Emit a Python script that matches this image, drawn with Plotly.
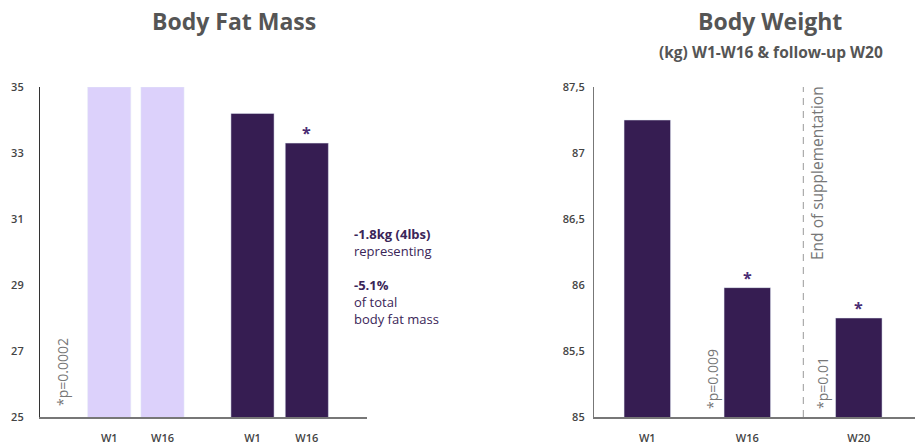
import plotly.graph_objects as go

# ---- data ----
fat_labels = ["W1", "W16", "W1", "W16"]
fat_placebo = [35, 35]          # clipped at the top of the axis
fat_supplement = [34.2, 33.3]
fat_star = [False, True]

weight_labels = ["W1", "W16", "W20"]
weight_values = [87.25, 85.98, 85.75]
weight_star = [False, True, True]

fat_ticks = [25, 27, 29, 31, 33, 35]
weight_ticks = [85, 85.5, 86, 86.5, 87, 87.5]
weight_ticktext = ["85", "85,5", "86", "86,5", "87", "87,5"]

side_lines = ["<b>-1.8kg (4lbs)</b>", "representing", "", "<b>-5.1%</b>", "of total", "body fat mass"]

# ---- layout helpers ----
W, H = 915, 447
DARK = "#361d52"
LIGHT = "#dcd1fb"
GREY = "#555555"
FONT = "Open Sans"

fat_pos = [0, 1, 2.69, 3.71]
weight_pos = [0, 1, 2.115]

def px(x):
    return x / W

def py(y):
    return 1 - y / H

ydom = [py(417), py(87)]

fig = go.Figure()
fig.add_trace(go.Bar(x=fat_pos[:2], y=fat_placebo, marker_color=LIGHT, width=0.81,
                     xaxis="x", yaxis="y", showlegend=False, hoverinfo="skip"))
fig.add_trace(go.Bar(x=fat_pos[2:], y=fat_supplement, marker_color=DARK, width=0.81,
                     xaxis="x", yaxis="y", showlegend=False, hoverinfo="skip"))
fig.add_trace(go.Bar(x=weight_pos, y=weight_values, marker_color=DARK, width=0.465,
                     xaxis="x2", yaxis="y2", showlegend=False, hoverinfo="skip"))

tickfont = dict(family=FONT, size=11, color="#444444", weight=600)

fig.update_layout(
    width=W, height=H, margin=dict(l=0, r=0, t=0, b=0, pad=0),
    paper_bgcolor="white", plot_bgcolor="white",
    barmode="overlay",
    xaxis=dict(domain=[px(40), px(367)], range=[-1.30, 4.84], tickvals=fat_pos,
               ticktext=fat_labels, showgrid=False, zeroline=False, showline=True,
               linecolor="#777777", linewidth=1.5, ticks="outside", ticklen=10,
               tickcolor="rgba(0,0,0,0)", tickfont=tickfont, automargin=False),
    yaxis=dict(domain=ydom, range=[25, 35], tickvals=fat_ticks, showgrid=False,
               zeroline=False, showline=True, linecolor="#333333", linewidth=1.2,
               ticks="outside", ticklen=13, tickcolor="rgba(0,0,0,0)",
               tickfont=tickfont, anchor="x", automargin=False),
    xaxis2=dict(domain=[px(594), 1.0], range=[-0.533, 2.677], tickvals=weight_pos,
                ticktext=weight_labels, showgrid=False, zeroline=False, showline=True,
                linecolor="#777777", linewidth=1.5, ticks="outside", ticklen=10,
                tickcolor="rgba(0,0,0,0)", tickfont=tickfont, anchor="y2", automargin=False),
    yaxis2=dict(domain=ydom, range=[85, 87.5], tickvals=weight_ticks,
                ticktext=weight_ticktext, showgrid=False, zeroline=False, showline=True,
                linecolor="#777777", linewidth=1.2, ticks="outside", ticklen=6,
                tickcolor="rgba(0,0,0,0)", tickfont=tickfont, anchor="x2", automargin=False),
)

def note(text, x, y, xa="center", ya="middle", **kw):
    return dict(text=text, x=px(x), y=py(y), xref="paper", yref="paper",
                xanchor=xa, yanchor=ya, showarrow=False, **kw)

ann = []
# titles
ann.append(note("<b>Body Fat Mass</b>", 234, 21, font=dict(family=FONT, size=23, color=GREY)))
ann.append(note("<b>Body Weight</b>", 770, 21, font=dict(family=FONT, size=23, color=GREY)))
ann.append(note("<b>(kg) W1-W16 &amp; follow-up W20</b>", 771, 52,
                font=dict(family=FONT, size=15.5, color=GREY)))
# side text (one block)
ann.append(note("<br>".join(side_lines), 352, 276, xa="left", ya="middle", align="left",
                font=dict(family=FONT, size=13, color="#3a2558")))
# p-values
pfont = dict(family=FONT, size=14, color="#777777")
ann.append(note("*p=0.0002", 62, 408, ya="bottom", textangle=-90, font=pfont))
ann.append(note("*p=0.009", 712, 411, ya="bottom", textangle=-90, font=pfont))
ann.append(note("*p=0.01", 822, 411, ya="bottom", textangle=-90, font=pfont))
ann.append(note("End of supplementation", 817, 84, ya="top", textangle=-90,
                font=dict(family=FONT, size=15.5, color="#777777")))
# significance stars
sfont = dict(family=FONT, size=16, color="#4a2d73", weight=700)
for p, v, s in zip(fat_pos[2:], fat_supplement, fat_star):
    if s:
        ann.append(dict(text="*", x=p, y=v, xref="x", yref="y", xanchor="center",
                        yanchor="bottom", showarrow=False, yshift=-3, font=sfont))
for p, v, s in zip(weight_pos, weight_values, weight_star):
    if s:
        ann.append(dict(text="*", x=p, y=v, xref="x2", yref="y2", xanchor="center",
                        yanchor="bottom", showarrow=False, yshift=-3, font=sfont))

fig.update_layout(annotations=ann)

fig.add_shape(type="line", xref="x2", yref="paper", x0=1.56, x1=1.56, y0=ydom[0], y1=ydom[1],
              line=dict(color="#999999", width=1, dash="7px,6px"))

fig.write_html("out.html", config={"displayModeBar": False},
               post_script="document.body.style.margin='0';document.body.style.overflow='hidden';")
